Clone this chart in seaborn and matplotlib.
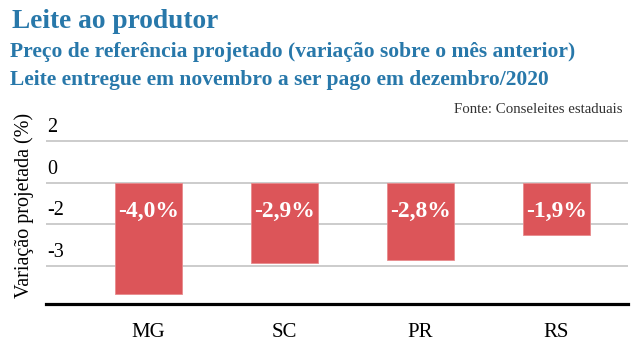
import matplotlib
matplotlib.use("Agg")
import matplotlib.pyplot as plt
import matplotlib.transforms as mtransforms
import seaborn as sns
import pandas as pd

# ---- data ----
categories = ["MG", "SC", "PR", "RS"]
values = [-4.0, -2.9, -2.8, -1.9]
bar_labels = ["-4,0%", "-2,9%", "-2,8%", "-1,9%"]
ytick_values = [1.5, 0, -1.5, -3]
ytick_labels = ["2", "0", "-2", "-3"]

title = "Leite ao produtor"
subtitle1 = "Preço de referência projetado (variação sobre o mês anterior)"
subtitle2 = "Leite entregue em novembro a ser pago em dezembro/2020"
source = "Fonte: Conseleites estaduais"
ylabel = "Variação projetada (%)"

df = pd.DataFrame({"estado": categories, "valor": values})

sns.set_theme(style="white")
plt.rcParams["font.family"] = ["Liberation Serif", "DejaVu Serif"]

W, H = 642, 345
fig = plt.figure(figsize=(W / 100, H / 100), dpi=100)

# axes in pixel coords
ax_left, ax_right, ax_top, ax_bottom = 46, 628, 115, 304
ax = fig.add_axes([ax_left / W, 1 - ax_bottom / H, (ax_right - ax_left) / W, (ax_bottom - ax_top) / H])

bar_color = "#DC5559"
sns.barplot(data=df, x="estado", y="valor", color=bar_color, saturation=1,
            width=0.49, ax=ax, zorder=3, edgecolor="#E88A8D", linewidth=0.6)

ax.set_xlim(-0.754, 3.526)
ax.set_ylim(-4.37, 2.43)

# grid lines
for v in ytick_values:
    ax.axhline(v, color="#CCCCCC", lw=1.4, zorder=1)

ax.set_yticks([])
ax.set_xlabel("")
ax.set_ylabel("")
for s in ["top", "right", "left"]:
    ax.spines[s].set_visible(False)
ax.spines["bottom"].set_color("black")
ax.spines["bottom"].set_linewidth(2.3)
ax.spines["bottom"].set_zorder(5)

ax.tick_params(axis="x", length=0, pad=14, labelsize=15, labelcolor="black")

# y tick labels drawn above the gridlines
blend = mtransforms.blended_transform_factory(ax.transAxes, ax.transData)
lab_tr = mtransforms.offset_copy(blend, fig=fig, x=1, y=9, units="dots")
for v, lab in zip(ytick_values, ytick_labels):
    ax.text(0, v, lab, transform=lab_tr, ha="left", va="baseline", fontsize=14.5, color="black")

# bar value labels
val_tr = mtransforms.offset_copy(ax.transData, fig=fig, x=0, y=-34, units="dots")
for i, (v, lab) in enumerate(zip(values, bar_labels)):
    ax.text(i, 0, lab, transform=val_tr, ha="center", va="baseline", fontsize=17,
            fontweight="bold", color="white", zorder=6)

# y label
fig.text(24.5 / W, 1 - 205 / H, ylabel, rotation=90, ha="center", va="center", fontsize=14.5, color="black")

# titles
tcolor = "#2878AA"
fig.text(12 / W, 1 - 28 / H, title, ha="left", va="baseline", fontsize=19.7, fontweight="bold", color=tcolor)
fig.text(10 / W, 1 - 56.5 / H, subtitle1, ha="left", va="baseline", fontsize=15.5, fontweight="bold", color=tcolor)
fig.text(10 / W, 1 - 85 / H, subtitle2, ha="left", va="baseline", fontsize=15.5, fontweight="bold", color=tcolor)
fig.text(622 / W, 1 - 113 / H, source, ha="right", va="baseline", fontsize=10.7, color="#333333")

fig.savefig("out.png", dpi=100)
